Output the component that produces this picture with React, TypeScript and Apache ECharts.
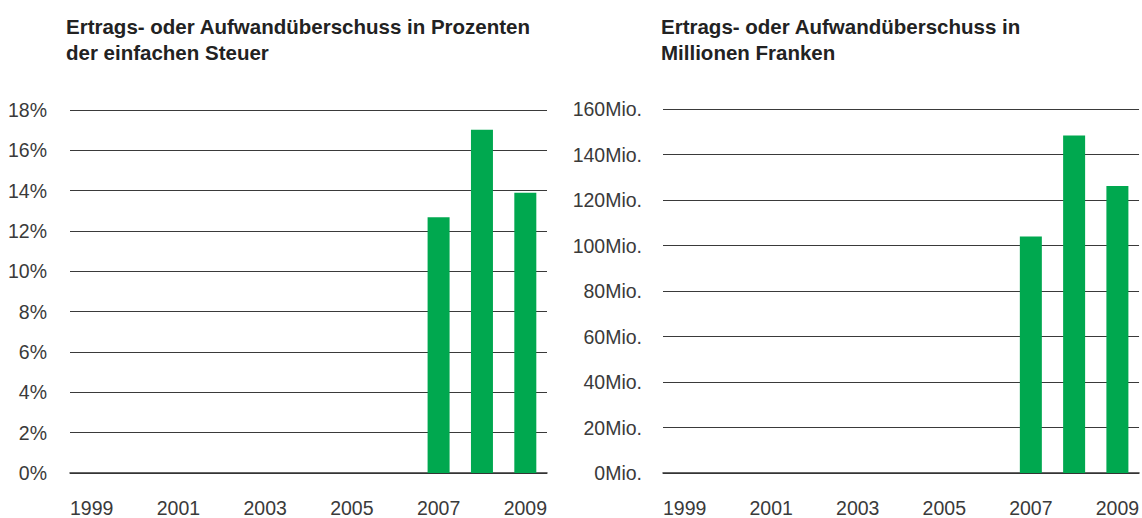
import React, { useEffect, useRef } from "react";
import * as echarts from "echarts";

const years = ["1999", "2000", "2001", "2002", "2003", "2004", "2005", "2006", "2007", "2008", "2009"];
const percentValues = [null, null, null, null, null, null, null, null, 12.68, 17.02, 13.9];
const millionValues = [null, null, null, null, null, null, null, null, 104.0, 148.4, 126.2];
const leftTitle = "Ertrags- oder Aufwandüberschuss in Prozenten\nder einfachen Steuer";
const rightTitle = "Ertrags- oder Aufwandüberschuss in\nMillionen Franken";

const FONT = "'Liberation Sans', Arial, Helvetica, sans-serif";
const GREEN = "#00a84f";
const GRID_COLOR = "#3a3a3a";
const LABEL_COLOR = "#3a3a3a";

export default function App() {
  const ref = useRef<HTMLDivElement>(null);

  useEffect(() => {
    if (!ref.current) return;
    const chart = echarts.init(ref.current, null, { renderer: "svg" });

    const xAxisBase = (gridIndex: number) => ({
      type: "category" as const,
      gridIndex,
      data: years,
      boundaryGap: true,
      axisTick: { show: false },
      axisLine: { show: true, lineStyle: { color: "#333", width: 1.5 } },
      axisLabel: {
        interval: 1,
        margin: 25,
        fontSize: 19.5,
        color: LABEL_COLOR,
        fontFamily: FONT,
      },
      splitLine: { show: false },
    });

    const yAxisBase = (gridIndex: number, max: number, interval: number, fmt: (v: number) => string, margin: number) => ({
      type: "value" as const,
      gridIndex,
      min: 0,
      max,
      interval,
      axisLine: { show: false },
      axisTick: { show: false },
      axisLabel: {
        margin,
        fontSize: 19.5,
        color: LABEL_COLOR,
        fontFamily: FONT,
        formatter: fmt,
      },
      splitLine: { show: true, lineStyle: { color: GRID_COLOR, width: 1 } },
    });

    const titleStyle = {
      fontSize: 20.5,
      fontWeight: "bold",
      color: "#222",
      fontFamily: FONT,
      lineHeight: 26,
    };

    chart.setOption({
      animation: false,
      backgroundColor: "#ffffff",
      textStyle: { fontFamily: FONT },
      title: [
        { text: leftTitle, left: 66, top: 13, padding: 0, textStyle: titleStyle },
        { text: rightTitle, left: 661, top: 13, padding: 0, textStyle: titleStyle },
      ],
      grid: [
        { left: 70, top: 110, width: 477, height: 365 },
        { left: 663, top: 109, width: 478, height: 367 },
      ],
      xAxis: [xAxisBase(0), xAxisBase(1)],
      yAxis: [
        yAxisBase(0, 18, 2, (v: number) => `${v}%`, 23),
        yAxisBase(1, 160, 20, (v: number) => `${v}Mio.`, 21),
      ],
      series: [
        {
          type: "bar",
          xAxisIndex: 0,
          yAxisIndex: 0,
          data: percentValues,
          barWidth: 22,
          itemStyle: { color: GREEN },
          z: 3,
        },
        {
          type: "bar",
          xAxisIndex: 1,
          yAxisIndex: 1,
          data: millionValues,
          barWidth: 22,
          itemStyle: { color: GREEN },
          z: 3,
        },
      ],
    });

    return () => chart.dispose();
  }, []);

  return (
    <div
      ref={ref}
      style={{ position: "fixed", left: 0, top: 0, width: 1142, height: 518, background: "#fff" }}
    />
  );
}
